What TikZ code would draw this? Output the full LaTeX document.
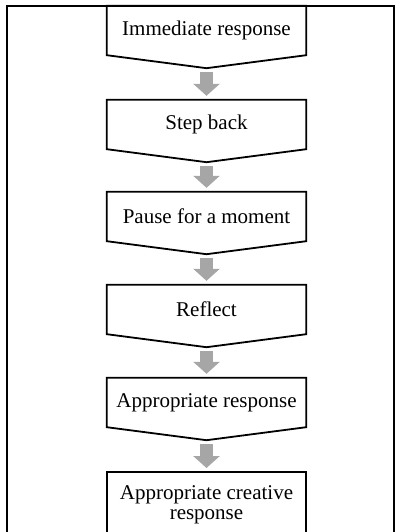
\documentclass[tikz,border=0pt]{standalone}
\usepackage{fontspec}
\setmainfont{Liberation Serif}
\usetikzlibrary{arrows.meta}
\definecolor{flowgray}{HTML}{A6A6A6}

\begin{document}
\begin{tikzpicture}[x=1pt, y=-1pt,
  stage/.style={minimum width=199pt, minimum height=49pt, inner sep=0pt, font=\fontsize{21}{20}\selectfont},
  outline/.style={line width=1.8pt, line join=miter},
  flow/.style={draw=flowgray, line width=13pt, -{Triangle[width=26pt,length=12pt]}, shorten <=17pt, shorten >=4pt}]
  \useasboundingbox (0,0) rectangle (401,532);
  \clip (0,0) rectangle (401,532);
  \draw[line width=1.2pt] (7,6) rectangle (394,560);

  \node[stage] (imm) at (206.5,30.5) {Immediate response};
  \node[stage] (back) at (206.5,124.5) {Step back};
  \node[stage] (pause) at (206.5,216.5) {Pause for a moment};
  \node[stage] (refl) at (206.5,309.5) {Reflect};
  \node[stage] (appr) at (206.5,402.5) {Appropriate response};
  \node[stage, minimum height=66pt, align=center, anchor=north] (creat) at (206.5,472) {Appropriate creative\\response};

  % pointed boxes
  \foreach \n in {imm,back,pause,refl,appr}
    \draw[outline] (\n.north west) -- (\n.south west) -- ([yshift=-13pt]\n.south) -- (\n.south east) -- (\n.north east) -- cycle;
  \draw[outline] ([yshift=-40pt]creat.south west) -- (creat.north west) -- (creat.north east) -- ([yshift=-40pt]creat.south east);

  \foreach \a/\b in {imm/back,back/pause,pause/refl,refl/appr,appr/creat}
    \draw[flow] (\a.south) -- (\b.north);
\end{tikzpicture}
\end{document}
